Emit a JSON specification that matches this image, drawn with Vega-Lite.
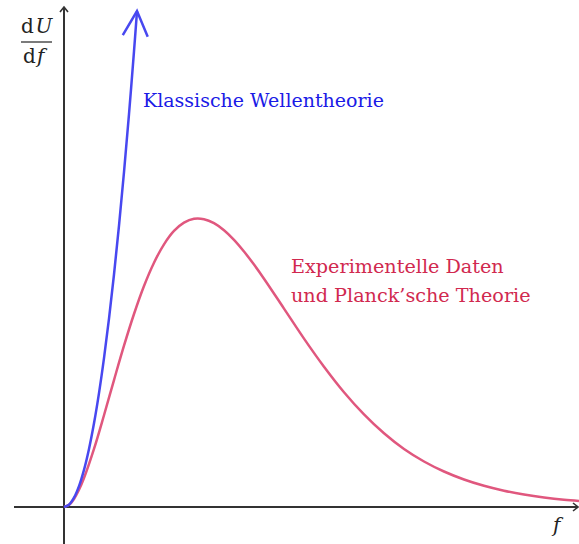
{
  "$schema": "https://vega.github.io/schema/vega-lite/v6.json",
  "width": 579,
  "height": 544,
  "autosize": {"type": "none"},
  "padding": 0,
  "background": "white",
  "config": {"view": {"stroke": null}},
  "datasets": {
    "axes": [
      {"x1": -0.5, "x2": 5.13, "y1": 0, "y2": 0},
      {"x1": 0, "x2": 0, "y1": -0.37, "y2": 4.99}
    ],
    "axisArrows": [
      {"x": 5.14, "y": 0, "angle": 90},
      {"x": 0, "y": 5.0, "angle": 0}
    ],
    "blueArrow": [
      {"x": 0.73, "y": 4.96, "angle": 4}
    ],
    "curves": [
      {"series": "Planck", "f": 0, "u": 0},
      {"series": "Planck", "f": 0.05, "u": 0.0213},
      {"series": "Planck", "f": 0.1, "u": 0.0808},
      {"series": "Planck", "f": 0.15, "u": 0.1721},
      {"series": "Planck", "f": 0.2, "u": 0.2894},
      {"series": "Planck", "f": 0.3, "u": 0.5806},
      {"series": "Planck", "f": 0.4, "u": 0.9175},
      {"series": "Planck", "f": 0.5, "u": 1.2694},
      {"series": "Planck", "f": 0.6, "u": 1.613},
      {"series": "Planck", "f": 0.7, "u": 1.93},
      {"series": "Planck", "f": 0.8, "u": 2.21},
      {"series": "Planck", "f": 0.9, "u": 2.443},
      {"series": "Planck", "f": 1.0, "u": 2.627},
      {"series": "Planck", "f": 1.1, "u": 2.761},
      {"series": "Planck", "f": 1.2, "u": 2.844},
      {"series": "Planck", "f": 1.3, "u": 2.882},
      {"series": "Planck", "f": 1.4, "u": 2.878},
      {"series": "Planck", "f": 1.5, "u": 2.839},
      {"series": "Planck", "f": 1.6, "u": 2.768},
      {"series": "Planck", "f": 1.7, "u": 2.672},
      {"series": "Planck", "f": 1.8, "u": 2.555},
      {"series": "Planck", "f": 1.9, "u": 2.424},
      {"series": "Planck", "f": 2.0, "u": 2.283},
      {"series": "Planck", "f": 2.2, "u": 1.984},
      {"series": "Planck", "f": 2.4, "u": 1.684},
      {"series": "Planck", "f": 2.6, "u": 1.403},
      {"series": "Planck", "f": 2.8, "u": 1.148},
      {"series": "Planck", "f": 3.0, "u": 0.926},
      {"series": "Planck", "f": 3.2, "u": 0.737},
      {"series": "Planck", "f": 3.4, "u": 0.58},
      {"series": "Planck", "f": 3.6, "u": 0.455},
      {"series": "Planck", "f": 3.8, "u": 0.355},
      {"series": "Planck", "f": 4.0, "u": 0.275},
      {"series": "Planck", "f": 4.2, "u": 0.212},
      {"series": "Planck", "f": 4.4, "u": 0.163},
      {"series": "Planck", "f": 4.6, "u": 0.125},
      {"series": "Planck", "f": 4.8, "u": 0.095},
      {"series": "Planck", "f": 5.0, "u": 0.072},
      {"series": "Planck", "f": 5.15, "u": 0.06},
      {"series": "Klassisch", "f": 0, "u": 0},
      {"series": "Klassisch", "f": 0.05, "u": 0.023},
      {"series": "Klassisch", "f": 0.1, "u": 0.093},
      {"series": "Klassisch", "f": 0.15, "u": 0.209},
      {"series": "Klassisch", "f": 0.2, "u": 0.372},
      {"series": "Klassisch", "f": 0.25, "u": 0.581},
      {"series": "Klassisch", "f": 0.3, "u": 0.837},
      {"series": "Klassisch", "f": 0.35, "u": 1.139},
      {"series": "Klassisch", "f": 0.4, "u": 1.488},
      {"series": "Klassisch", "f": 0.45, "u": 1.883},
      {"series": "Klassisch", "f": 0.5, "u": 2.325},
      {"series": "Klassisch", "f": 0.55, "u": 2.813},
      {"series": "Klassisch", "f": 0.6, "u": 3.348},
      {"series": "Klassisch", "f": 0.65, "u": 3.929},
      {"series": "Klassisch", "f": 0.7, "u": 4.557},
      {"series": "Klassisch", "f": 0.73, "u": 4.956}
    ],
    "upright": [
      {"x": -0.43, "y": 4.74, "text": "d"},
      {"x": -0.41, "y": 4.44, "text": "d"}
    ],
    "italic": [
      {"x": -0.285, "y": 4.74, "text": "U"},
      {"x": -0.27, "y": 4.44, "text": "f"},
      {"x": 4.89, "y": -0.25, "text": "f"}
    ],
    "bar": [
      {"x1": -0.43, "x2": -0.12, "y1": 4.65, "y2": 4.65}
    ],
    "blueText": [
      {"x": 0.79, "y": 4.0, "text": "Klassische Wellentheorie"}
    ],
    "redText": [
      {"x": 2.27, "y": 2.34, "text": "Experimentelle Daten"},
      {"x": 2.27, "y": 2.05, "text": "und Planck’sche Theorie"}
    ]
  },
  "layer": [
    {
      "data": {"name": "axes"},
      "mark": {"type": "rule", "color": "#333333", "strokeWidth": 2},
      "encoding": {
        "x": {"field": "x1", "type": "quantitative", "scale": {"domain": [-0.64, 5.15], "nice": false, "zero": false}, "axis": null},
        "x2": {"field": "x2"},
        "y": {"field": "y1", "type": "quantitative", "scale": {"domain": [-0.37, 5.07], "nice": false, "zero": false}, "axis": null},
        "y2": {"field": "y2"}
      }
    },
    {
      "data": {"name": "axisArrows"},
      "mark": {"type": "point", "shape": "M-0.8,1 L0,0 L0.8,1", "filled": false, "stroke": "#333333", "strokeWidth": 1.6, "size": 100, "opacity": 1},
      "encoding": {
        "x": {"field": "x", "type": "quantitative", "axis": null},
        "y": {"field": "y", "type": "quantitative", "axis": null},
        "angle": {"field": "angle", "type": "quantitative", "scale": null}
      }
    },
    {
      "data": {"name": "curves"},
      "mark": {"type": "line", "strokeWidth": 2.5, "interpolate": "catmull-rom"},
      "encoding": {
        "x": {"field": "f", "type": "quantitative", "axis": null},
        "y": {"field": "u", "type": "quantitative", "axis": null},
        "color": {"field": "series", "type": "nominal", "scale": {"domain": ["Planck", "Klassisch"], "range": ["#e0577e", "#4848f0"]}, "legend": null},
        "order": {"field": "f", "type": "quantitative"}
      }
    },
    {
      "data": {"name": "blueArrow"},
      "mark": {"type": "point", "shape": "M-0.5,1 L0,0 L0.5,1", "filled": false, "stroke": "#4848f0", "strokeWidth": 2.5, "size": 2500, "opacity": 1},
      "encoding": {
        "x": {"field": "x", "type": "quantitative", "axis": null},
        "y": {"field": "y", "type": "quantitative", "axis": null},
        "angle": {"field": "angle", "type": "quantitative", "scale": null}
      }
    },
    {
      "data": {"name": "bar"},
      "mark": {"type": "rule", "color": "#222222", "strokeWidth": 1.2},
      "encoding": {
        "x": {"field": "x1", "type": "quantitative", "axis": null},
        "x2": {"field": "x2"},
        "y": {"field": "y1", "type": "quantitative", "axis": null},
        "y2": {"field": "y2"}
      }
    },
    {
      "data": {"name": "upright"},
      "mark": {"type": "text", "font": "DejaVu Serif", "fontSize": 20, "align": "left", "baseline": "alphabetic", "color": "#222222"},
      "encoding": {
        "x": {"field": "x", "type": "quantitative", "axis": null},
        "y": {"field": "y", "type": "quantitative", "axis": null},
        "text": {"field": "text"}
      }
    },
    {
      "data": {"name": "italic"},
      "mark": {"type": "text", "font": "DejaVu Serif", "fontStyle": "italic", "fontSize": 20, "align": "left", "baseline": "alphabetic", "color": "#222222"},
      "encoding": {
        "x": {"field": "x", "type": "quantitative", "axis": null},
        "y": {"field": "y", "type": "quantitative", "axis": null},
        "text": {"field": "text"}
      }
    },
    {
      "data": {"name": "blueText"},
      "mark": {"type": "text", "font": "DejaVu Serif", "fontSize": 19, "align": "left", "baseline": "alphabetic", "color": "#1a1ae6"},
      "encoding": {
        "x": {"field": "x", "type": "quantitative", "axis": null},
        "y": {"field": "y", "type": "quantitative", "axis": null},
        "text": {"field": "text"}
      }
    },
    {
      "data": {"name": "redText"},
      "mark": {"type": "text", "font": "DejaVu Serif", "fontSize": 19.2, "align": "left", "baseline": "alphabetic", "color": "#d1294f"},
      "encoding": {
        "x": {"field": "x", "type": "quantitative", "axis": null},
        "y": {"field": "y", "type": "quantitative", "axis": null},
        "text": {"field": "text"}
      }
    }
  ]
}
